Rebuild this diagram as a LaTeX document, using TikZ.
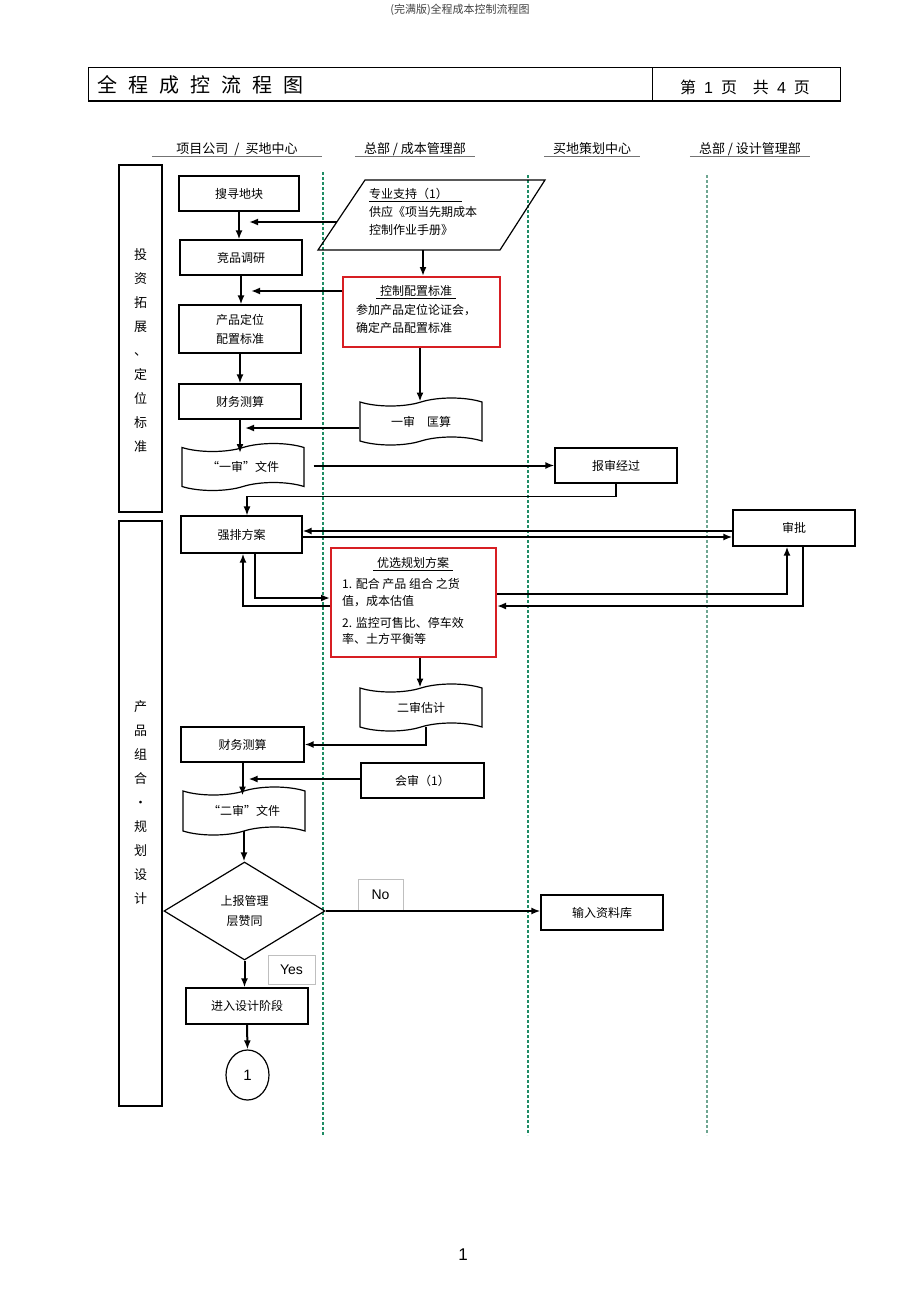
\documentclass[tikz,border=0pt]{standalone}
\usepackage{fontspec}
\setmainfont{Noto Sans CJK SC}
\newfontfamily\latinsf{Liberation Sans}
\usetikzlibrary{arrows.meta,shapes.geometric,shapes.symbols}

\definecolor{lanegreen}{RGB}{30,140,100}
\definecolor{lanegray}{RGB}{110,165,145}
\definecolor{boxred}{RGB}{215,30,35}

\begin{document}
\begin{tikzpicture}[x=1pt,y=-1pt,>={Latex[length=9pt,width=7pt]},
    box/.style={draw,line width=1.2pt,minimum width=122pt,minimum height=35pt,inner sep=1pt,
                align=center,font=\fontsize{12}{19}\selectfont},
    docbox/.style={tape,draw,line width=1.2pt,minimum width=122pt,minimum height=47pt,
                tape bend height=8pt,font=\fontsize{12}{19}\selectfont},
    redbox/.style={draw=boxred,line width=2pt,inner sep=0pt},
    intext/.style={anchor=west,align=left,inner sep=0pt,font=\fontsize{12}{18}\selectfont},
    arr/.style={->,line width=2pt},
    lane/.style={line width=2pt,draw=lanegreen,dash pattern=on 3pt off 2pt},
    stagebox/.style={draw,line width=1.2pt,minimum width=43pt},
    stagetxt/.style={align=center,inner sep=0pt,font=\fontsize{13}{24}\selectfont},
    yesno/.style={draw=black!25,line width=0.6pt,font=\latinsf\fontsize{14}{16}\selectfont},
    head/.style={inner sep=1pt,font=\fontsize{13}{15}\selectfont}]

\useasboundingbox (0,0) rectangle (920,1303);

%% page title and number
\node[font=\fontsize{11}{13}\selectfont,text=black!75] (pgtitle) at (460,10) {(完满版)全程成本控制流程图};
\node[font=\latinsf\fontsize{17}{19}\selectfont] (pgnum) at (463,1255) {1};

%% title bar
\draw[line width=1pt] (88,68) rectangle (840,102);
\draw[line width=2.5pt] (88,101) -- (840,101);
\draw[line width=1pt] (652,68) -- (652,102);
\node[anchor=west,font=\fontsize{20}{24}\selectfont] (ttl) at (94,85)
    {全\hspace{11pt}程\hspace{11pt}成\hspace{11pt}控\hspace{11pt}流\hspace{11pt}程\hspace{11pt}图};
\node[font=\fontsize{16}{18}\selectfont] (pgof) at (745,87)
    {第\hspace{8pt}{\latinsf 1}\hspace{8pt}页\hspace{16pt}共\hspace{8pt}{\latinsf 4}\hspace{8pt}页};

%% lane headers
\node[head,minimum width=170pt] (hdA) at (237,149) {项目公司\hspace{6pt}/\hspace{6pt}买地中心};
\node[head,minimum width=120pt] (hdB) at (415,149) {总部 / 成本管理部};
\node[head,minimum width=95pt]  (hdC) at (592,149) {买地策划中心};
\node[head,minimum width=120pt] (hdD) at (750,149) {总部 / 设计管理部};
\foreach \h in {hdA,hdB,hdC,hdD}
    \draw[black!55,line width=0.8pt] (\h.south west) -- (\h.south east);

%% lane separators
\draw[lane] (323,172) -- (323,1135);
\draw[lane] (528,175) -- (528,1135);
\draw[line width=1.2pt,draw=lanegray,dash pattern=on 3pt off 2pt] (707,175) -- (707,1135);

%% stages
\node[stagebox,minimum height=347pt] (stg1) at (140.5,338.5) {};
\node[stagetxt] (stg1t) at (140.5,351) {投\\资\\拓\\展\\、\\定\\位\\标\\准};
\node[stagebox,minimum height=585pt] (stg2) at (140.5,813.5) {};
\node[stagetxt] (stg2t) at (140.5,803) {产\\品\\组\\合\\·\\规\\划\\设\\计};

%% left column
\node[box,minimum width=120pt] (sxdk) at (239,193.5) {搜寻地块};
\node[box] (jpdy) at (241,257.5) {竞品调研};
\node[box,minimum height=48pt] (cpdw) at (240,329) {产品定位\\配置标准};
\node[box] (cwcs1) at (240,401.5) {财务测算};
\node[docbox] (ysfile) at (243,467) {“一审”文件};
\node[box,minimum width=121pt,minimum height=37pt] (qpfa) at (241.5,534.5) {强排方案};
\node[box,minimum width=123pt] (cwcs2) at (242.5,744.5) {财务测算};
\node[docbox,minimum height=48pt] (esfile) at (244,811) {“二审”文件};
\node[draw,diamond,line width=1.2pt,minimum width=161pt,minimum height=98pt,inner sep=0pt,
      align=center,font=\fontsize{12}{20}\selectfont] (sbgl) at (244.5,911) {上报管理\\层赞同};
\node[box,minimum height=36pt] (jrsj) at (247,1006) {进入设计阶段};
\node[draw,ellipse,line width=1.2pt,minimum width=43pt,minimum height=50pt,
      font=\latinsf\fontsize{15}{17}\selectfont] (c1) at (247.5,1075) {1};

%% cost lane
\draw[line width=1.2pt] (365,180) -- (545,180) -- (500,250) -- (318,250) -- cycle;
\coordinate (zyzc-w) at (336.5,222);
\coordinate (zyzc-s) at (423,250);
\node[intext] (zyzc) at (369,212) {\underline{专业支持（1）\hspace{14pt}}\\供应《项当先期成本\\控制作业手册》};

\node[redbox,minimum width=157pt,minimum height=70pt] (kzpz) at (421.5,312) {};
\node[inner sep=0pt,font=\fontsize{12}{18}\selectfont] (kzpz-t) at (416,292) {\underline{\hspace{4pt}控制配置标准\hspace{4pt}}};
\node[intext] (kzpz-b) at (356,319) {参加产品定位论证会，\\确定产品配置标准};

\node[docbox] (ys) at (421,421.5) {一审\hspace{12pt}匡算};
\node[box] (bsjg) at (616,465.5) {报审经过};
\node[box,minimum height=36pt] (sp) at (794,528) {审批};

\node[redbox,minimum width=165pt,minimum height=109pt] (yxgh) at (413.5,602.5) {};
\node[inner sep=0pt,font=\fontsize{12}{18}\selectfont] (yxgh-t) at (413,564) {\underline{\hspace{4pt}优选规划方案\hspace{4pt}}};
\node[intext,font=\fontsize{12}{17}\selectfont] (yxgh-a) at (342,592.5) {1. 配合 产品 组合 之货\\值，成本估值};
\node[intext,font=\fontsize{12}{16}\selectfont] (yxgh-b) at (342,630.5) {2. 监控可售比、停车效\\率、土方平衡等};

\node[docbox] (esgj) at (421,707.5) {二审估计};
\node[box,minimum width=123pt] (hs) at (422.5,780.5) {会审（1）};
\node[box] (srzlk) at (602,912.5) {输入资料库};

\node[yesno,minimum width=45pt,minimum height=31pt] (no) at (380.5,894.5) {No};
\node[yesno,minimum width=47pt,minimum height=29pt] (yes) at (291.5,969.5) {Yes};

%% connectors
\draw[arr] (sxdk.south) -- (sxdk.south |- jpdy.north);
\draw[arr,shorten >=10pt] (zyzc-w) -- (zyzc-w -| sxdk.south);
\draw[arr] (zyzc-s) -- (zyzc-s |- kzpz.north);
\draw[arr] (jpdy.south) -- (jpdy.south |- cpdw.north);
\draw[arr,shorten >=10pt] ([yshift=21pt]kzpz.west) -- ([yshift=21pt]kzpz.west -| jpdy.south);
\draw[arr] ([xshift=-1.5pt]kzpz.south) -- ([xshift=-1.5pt]kzpz.south |- ys.north);
\draw[arr] (cpdw.south) -- (cpdw.south |- cwcs1.north);
\draw[arr,shorten >=5pt] ([yshift=-6.5pt]ys.west) -- ([yshift=-6.5pt]ys.west -| cwcs1.south);
\draw[arr] (cwcs1.south) -- ([yshift=-6pt]cwcs1.south |- ysfile.north);
\draw[arr,shorten <=9pt] (bsjg.west -| ysfile.east) -- (bsjg.west);
\draw[arr,line width=1.4pt] (bsjg.south) -- ++(0,13) -| ([xshift=5.5pt]qpfa.north);
\draw[arr] ([yshift=3.5pt]qpfa.east -| sp.west) -- ([yshift=3.5pt]qpfa.east);
\draw[arr] ([yshift=-2.5pt]qpfa.east) -- ([yshift=-2.5pt]qpfa.east -| sp.west);
\draw[arr] ([xshift=13.5pt]qpfa.south) |- ([yshift=4.5pt]yxgh.west);
\draw[arr] ([yshift=-3.5pt]yxgh.west) -| ([xshift=1.5pt]qpfa.south);
\draw[arr] ([yshift=8.5pt]yxgh.east) -| ([xshift=-7pt]sp.south);
\draw[arr] ([xshift=9pt]sp.south) |- ([yshift=-3.5pt]yxgh.east);
\draw[arr] ([xshift=6.5pt]yxgh.south) -- ([xshift=6.5pt]yxgh.south |- esgj.north);
\draw[arr] ([xshift=5pt]esgj.south) |- (cwcs2.east);
\draw[arr] (cwcs2.south) -- ([yshift=-5pt]cwcs2.south |- esfile.north);
\draw[arr,shorten >=6pt] ([yshift=1.5pt]hs.west) -- ([yshift=1.5pt]hs.west -| cwcs2.south);
\draw[arr] (esfile.south) -- (esfile.south |- sbgl.north);
\draw[arr] (sbgl.east) -- (sbgl.east -| srzlk.west);
\draw[arr] (sbgl.south) -- (sbgl.south |- jrsj.north);
\draw[arr] (jrsj.south) -- (c1.north);

\end{tikzpicture}
\end{document}
